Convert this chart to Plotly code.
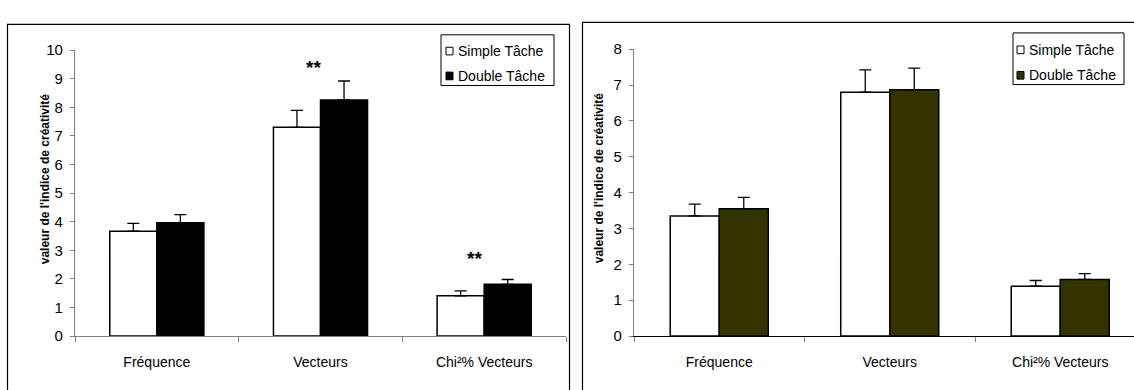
import plotly.graph_objects as go

categories = ["Fréquence", "Vecteurs", "Chi²% Vecteurs"]

# Left chart
left_simple = [3.67, 7.30, 1.41]
left_simple_err = [0.27, 0.59, 0.17]
left_double = [3.96, 8.26, 1.81]
left_double_err = [0.29, 0.66, 0.17]

# Right chart
right_simple = [3.35, 6.80, 1.39]
right_simple_err = [0.33, 0.62, 0.16]
right_double = [3.55, 6.87, 1.58]
right_double_err = [0.32, 0.60, 0.16]

series_names = ["Simple Tâche", "Double Tâche"]
left_colors = ["#ffffff", "#000000"]
right_colors = ["#ffffff", "#333300"]

left_ticks = list(range(0, 11))
right_ticks = list(range(0, 9))

W, H = 1134, 390
FONT = "Liberation Sans, Arial, sans-serif"


def px(x):
    return x / W


def py(y):
    return 1 - y / H


def err(vals):
    return dict(type="data", symmetric=False, array=vals, arrayminus=[0] * len(vals),
                color="black", thickness=1.3, width=6)


fig = go.Figure()

for name, vals, e, col in [(series_names[0], left_simple, left_simple_err, left_colors[0]),
                           (series_names[1], left_double, left_double_err, left_colors[1])]:
    fig.add_trace(go.Bar(x=categories, y=vals, name=name, error_y=err(e),
                         marker=dict(color=col, line=dict(color="black", width=1.5)),
                         xaxis="x", yaxis="y", showlegend=False))

for name, vals, e, col in [(series_names[0], right_simple, right_simple_err, right_colors[0]),
                           (series_names[1], right_double, right_double_err, right_colors[1])]:
    fig.add_trace(go.Bar(x=categories, y=vals, name=name, error_y=err(e),
                         marker=dict(color=col, line=dict(color="black", width=1.5)),
                         xaxis="x2", yaxis="y2", showlegend=False))

yaxis_common = dict(showgrid=False, zeroline=False, showline=True, ticks="outside",
                    ticklen=4, tickcolor="#808080", linecolor="#808080", linewidth=1.2,
                    ticklabelstandoff=4,
                    tickfont=dict(family=FONT, size=15, color="black"))
xaxis_common = dict(showgrid=False, zeroline=False, showline=True, ticks="outside",
                    ticklen=5, tickcolor="#808080", linewidth=1.2, type="category",
                    tickson="boundaries", ticklabelstandoff=13,
                    tickfont=dict(family=FONT, size=14, color="black"))

fig.update_layout(
    width=W, height=H,
    margin=dict(l=0, r=0, t=0, b=0),
    paper_bgcolor="white", plot_bgcolor="white",
    barmode="group", bargap=0.425, bargroupgap=0,
    font=dict(family=FONT, color="black"),
    showlegend=False,
    xaxis=dict(domain=[px(75), px(566)], anchor="y", range=[-0.5, 2.5],
               linecolor="#808080", **xaxis_common),
    yaxis=dict(domain=[py(342), py(43)], anchor="x", range=[0, 10],
               tickvals=left_ticks, **yaxis_common),
    xaxis2=dict(domain=[px(634), 1.0], anchor="y2",
                range=[-0.5, -0.5 + (W - 634) / 170.5],
                linecolor="black", **xaxis_common),
    yaxis2=dict(domain=[py(342), py(42)], anchor="x2", range=[0, 8],
                tickvals=right_ticks, **yaxis_common),
)

# Panel frames
fig.add_shape(type="rect", xref="paper", yref="paper",
              x0=px(7.5), x1=px(569.5), y0=-0.1, y1=py(16),
              line=dict(color="black", width=1.2), fillcolor="rgba(0,0,0,0)", layer="below")
fig.add_shape(type="rect", xref="paper", yref="paper",
              x0=px(582.5), x1=px(1140), y0=-0.1, y1=py(14),
              line=dict(color="black", width=1.2), fillcolor="rgba(0,0,0,0)", layer="below")

# Legends (drawn boxes with small swatches)
legend_specs = [
    dict(box=(441, 554, 27, 80), sw_x=446, txt_x=456, rows=(44, 70), colors=left_colors),
    dict(box=(1013, 1124, 25, 79), sw_x=1017, txt_x=1027, rows=(42.7, 69.3), colors=right_colors),
]
for spec in legend_specs:
    bx0, bx1, by0, by1 = spec["box"]
    fig.add_shape(type="rect", xref="paper", yref="paper",
                  x0=px(bx0), x1=px(bx1), y0=py(by1), y1=py(by0),
                  line=dict(color="black", width=1), fillcolor="white")
    for name, yc, col in zip(series_names, spec["rows"], spec["colors"]):
        fig.add_shape(type="rect", xref="paper", yref="paper",
                      x0=px(spec["sw_x"]), x1=px(spec["sw_x"] + 7),
                      y0=py(yc + 4), y1=py(yc - 4),
                      line=dict(color="black", width=1), fillcolor=col)
        fig.add_annotation(text=name, xref="paper", yref="paper",
                           x=px(spec["txt_x"]), y=py(yc), xanchor="left", yanchor="middle",
                           showarrow=False, font=dict(family=FONT, size=14, color="black"))

# Y-axis titles
ytitle = "valeur de l'indice de créativité"
fig.add_annotation(text=f"<b>{ytitle}</b>", xref="paper", yref="paper",
                   x=px(36), y=py(178), textangle=-90, showarrow=False,
                   font=dict(family=FONT, size=12, color="black"))
fig.add_annotation(text=f"<b>{ytitle}</b>", xref="paper", yref="paper",
                   x=px(599), y=py(177), textangle=-90, showarrow=False,
                   font=dict(family=FONT, size=12, color="black"))

# Significance stars (left chart)
fig.add_annotation(text="<b>**</b>", x=categories[1], y=9.40, xref="x", yref="y",
                   xshift=-7, showarrow=False, font=dict(family=FONT, size=19, color="black"))
fig.add_annotation(text="<b>**</b>", x=categories[2], y=2.72, xref="x", yref="y",
                   xshift=-10, showarrow=False, font=dict(family=FONT, size=19, color="black"))

fig.write_html("out.html")
